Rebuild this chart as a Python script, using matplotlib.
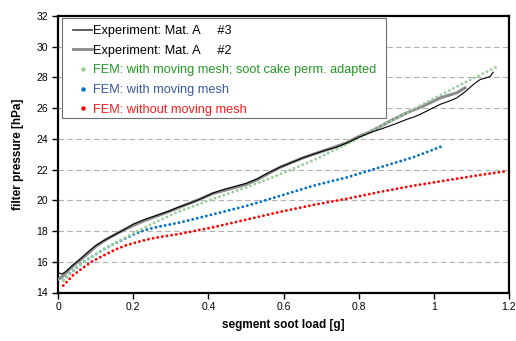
import matplotlib
matplotlib.use("Agg")
import matplotlib.pyplot as plt
from matplotlib.lines import Line2D
from matplotlib.patches import Rectangle

plt.rcParams['font.family'] = ['Liberation Sans', 'DejaVu Sans']

# Experiment Mat. A #3 (black)
exp3_x = [0.0, 0.01, 0.02, 0.04, 0.06, 0.08, 0.10, 0.12, 0.15, 0.18, 0.20, 0.23,
          0.26, 0.29, 0.32, 0.35, 0.38, 0.41, 0.44, 0.47, 0.50, 0.53, 0.56, 0.59,
          0.62, 0.65, 0.68, 0.71, 0.74, 0.77, 0.80, 0.83, 0.866, 0.90, 0.928, 0.95,
          0.972, 1.0, 1.017, 1.04, 1.061, 1.085, 1.105, 1.123, 1.14, 1.15, 1.158]
exp3_y = [15.3, 15.2, 15.35, 15.8, 16.2, 16.65, 17.05, 17.35, 17.75, 18.15, 18.45, 18.75,
          19.0, 19.25, 19.55, 19.8, 20.1, 20.45, 20.7, 20.9, 21.1, 21.4, 21.8, 22.15,
          22.45, 22.75, 23.0, 23.25, 23.45, 23.75, 24.1, 24.4, 24.7, 25.0, 25.27, 25.45,
          25.7, 26.05, 26.25, 26.45, 26.67, 27.1, 27.54, 27.86, 27.98, 28.07, 28.34]

# Experiment Mat. A #2 (grey)
exp2_x = [0.0, 0.01, 0.03, 0.057, 0.083, 0.10, 0.128, 0.154, 0.181, 0.208, 0.234,
          0.26, 0.287, 0.314, 0.34, 0.37, 0.413, 0.45, 0.48, 0.502, 0.53, 0.56, 0.591,
          0.62, 0.65, 0.679, 0.71, 0.74, 0.768, 0.80, 0.83, 0.857, 0.883, 0.928, 0.972,
          1.017, 1.061, 1.083]
exp2_y = [14.85, 15.0, 15.5, 16.08, 16.6, 17.0, 17.45, 17.8, 18.15, 18.45, 18.72,
          18.95, 19.2, 19.45, 19.72, 20.0, 20.45, 20.7, 20.9, 21.05, 21.35, 21.75, 22.15,
          22.45, 22.75, 23.0, 23.25, 23.5, 23.75, 24.15, 24.45, 24.8, 25.15, 25.7, 26.14,
          26.67, 27.0, 27.32]

# FEM with moving mesh; soot cake perm. adapted (green)
fem_adapt_x = [0.014, 0.039, 0.066, 0.094, 0.123, 0.150, 0.172, 0.199, 0.225, 0.252,
               0.279, 0.305, 0.336, 0.413, 0.502, 0.591, 0.679, 0.768, 0.839, 0.928,
               1.017, 1.105, 1.175]
fem_adapt_y = [14.8, 15.4, 15.95, 16.4, 16.83, 17.18, 17.5, 17.83, 18.16, 18.48,
               18.80, 19.10, 19.40, 20.1, 20.85, 21.7, 22.6, 23.65, 24.55, 25.7,
               26.85, 27.95, 28.78]

# FEM with moving mesh (blue)
fem_move_x = [0.014, 0.039, 0.066, 0.094, 0.123, 0.150, 0.177, 0.203, 0.230, 0.261,
              0.296, 0.325, 0.413, 0.502, 0.591, 0.679, 0.768, 0.857, 0.945, 1.025]
fem_move_y = [14.8, 15.4, 15.95, 16.4, 16.83, 17.18, 17.5, 17.8, 18.05, 18.25,
              18.42, 18.56, 19.09, 19.64, 20.29, 20.95, 21.49, 22.15, 22.8, 23.55]

# FEM without moving mesh (red)
fem_nomove_x = [0.014, 0.039, 0.066, 0.092, 0.123, 0.153, 0.181, 0.212, 0.248, 0.283,
                0.325, 0.413, 0.502, 0.591, 0.679, 0.768, 0.857, 0.945, 1.034, 1.123,
                1.194]
fem_nomove_y = [14.45, 15.1, 15.6, 16.04, 16.43, 16.80, 17.07, 17.29, 17.51, 17.66,
                17.82, 18.25, 18.75, 19.25, 19.7, 20.1, 20.55, 20.95, 21.3, 21.65,
                21.9]

labels = ["Experiment: Mat. A     #3", "Experiment: Mat. A     #2",
          "FEM: with moving mesh; soot cake perm. adapted",
          "FEM: with moving mesh", "FEM: without moving mesh"]

x_ticks = [0, 0.2, 0.4, 0.6, 0.8, 1, 1.2]
x_ticklabels = ["0", "0.2", "0.4", "0.6", "0.8", "1", "1.2"]
y_ticks = [14, 16, 18, 20, 22, 24, 26, 28, 30, 32]

W, H = 516, 341
fig = plt.figure(figsize=(W / 100, H / 100), dpi=100)
ax = fig.add_axes([58 / W, 1 - 292.5 / H, 451 / W, 276.5 / H])

dot = dict(linestyle=(0, (0.01, 1.6)), dash_capstyle='round', linewidth=2.1)
ax.plot(fem_nomove_x, fem_nomove_y, color='#ff0000', zorder=3, **dot)
ax.plot(fem_move_x, fem_move_y, color='#0070c0', zorder=3, **dot)
ax.plot(exp2_x, exp2_y, color='#8a8a8a', linewidth=2.2, zorder=4)
ax.plot(exp3_x, exp3_y, color='#000000', linewidth=0.8, zorder=5)
ax.plot(fem_adapt_x, fem_adapt_y, color='#96d096', zorder=4, **dot)

ax.set_xlim(0, 1.2)
ax.set_ylim(14, 32)
ax.set_xticks(x_ticks)
ax.set_xticklabels(x_ticklabels)
ax.set_yticks(y_ticks)
ax.tick_params(axis='both', direction='out', length=4, width=1, labelsize=7.5,
               colors='black', pad=3)
ax.tick_params(axis='x', pad=3)
for y in y_ticks[1:-1]:
    ax.axhline(y, color='#b0b0b0', linestyle=(0, (5, 3)), linewidth=0.8, zorder=1)
for s in ax.spines.values():
    s.set_linewidth(1.6)
    s.set_color('black')

ax.set_xlabel("segment soot load [g]", fontsize=8.5, fontweight='bold', labelpad=5)
ax.set_ylabel("filter pressure [hPa]", fontsize=8.5, fontweight='bold', labelpad=9)

# legend frame drawn separately
fig.patches.append(Rectangle((62 / W, 1 - 118 / H), 324 / W, 100 / H,
                             transform=fig.transFigure, facecolor='white',
                             edgecolor='#707070', linewidth=0.8, zorder=6))

handles = [
    Line2D([], [], color='#404040', linewidth=1.2),
    Line2D([], [], color='#8a8a8a', linewidth=2.0),
    Line2D([], [], color='#96d096', marker='o', markersize=2.2, linestyle='None'),
    Line2D([], [], color='#0070c0', marker='o', markersize=2.2, linestyle='None'),
    Line2D([], [], color='#ff0000', marker='o', markersize=2.2, linestyle='None'),
]
leg = fig.legend(handles, labels, loc='upper left',
                 bbox_to_anchor=(73 / W, 1 - 25 / H), borderaxespad=0,
                 fontsize=9.2, frameon=False, handlelength=1.5,
                 handletextpad=0.05, labelspacing=0.6, borderpad=0)
leg.set_zorder(7)
text_colors = ['black', 'black', '#229922', '#3a5a9e', '#ff1a1a']
for t, c in zip(leg.get_texts(), text_colors):
    t.set_color(c)

fig.savefig("out.png", dpi=100)
